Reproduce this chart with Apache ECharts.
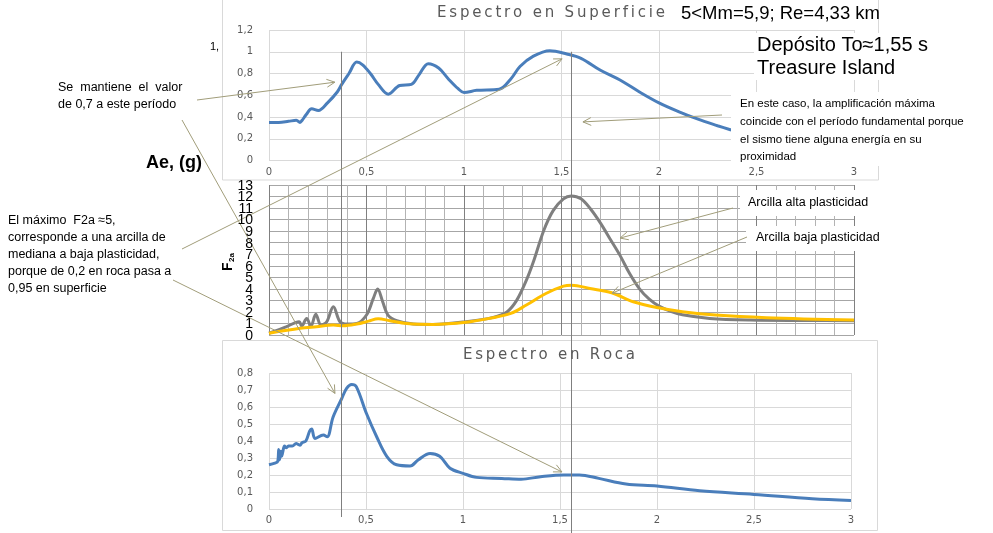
<!DOCTYPE html>
<html><head><meta charset="utf-8">
<script src="https://cdn.jsdelivr.net/npm/echarts/dist/echarts.min.js"></script>
<style>html,body{margin:0;padding:0;background:#fff}#c{width:993px;height:533px}</style>
</head><body><div id="c"></div>
<script>
// ---- Data: Espectro en Superficie (T in s, Ae in g)
const supT = [0,0.05,0.1,0.14,0.159,0.17,0.19,0.219,0.253,0.3,0.35,0.373,0.41,0.45,0.48,0.52,0.56,0.612,0.67,0.73,0.77,0.817,0.87,0.92,0.97,1.0,1.065,1.18,1.24,1.287,1.356,1.44,1.527,1.6,1.7,1.8,1.9,2.0,2.1,2.2,2.3,2.37];
const supA = [0.35,0.35,0.36,0.37,0.35,0.37,0.42,0.475,0.46,0.53,0.63,0.70,0.8,0.905,0.88,0.8,0.7,0.61,0.69,0.70,0.79,0.89,0.85,0.75,0.66,0.625,0.645,0.655,0.75,0.865,0.96,1.01,0.98,0.94,0.83,0.74,0.63,0.53,0.45,0.38,0.32,0.28];
// ---- Data: F2a, arcilla alta plasticidad
const grayT = [0,0.09,0.154,0.168,0.193,0.215,0.24,0.267,0.296,0.33,0.364,0.4,0.45,0.5,0.535,0.557,0.583,0.61,0.655,0.74,0.84,1.01,1.15,1.22,1.27,1.32,1.355,1.41,1.458,1.51,1.55,1.6,1.65,1.7,1.75,1.8,1.85,1.9,1.95,2.0,2.06,2.12,2.26,2.47,2.75,3.0];
const grayF = [0.15,0.72,1.15,0.78,1.44,0.78,1.79,0.86,1.15,2.45,1.15,0.95,1.0,1.73,3.17,3.98,2.88,1.73,1.24,0.95,0.92,1.15,1.53,2.0,3.0,4.75,6.3,9.1,10.8,11.8,12.05,11.8,10.9,9.7,8.3,6.9,5.3,4.0,3.1,2.5,2.05,1.75,1.44,1.3,1.26,1.24];
// ---- Data: F2a, arcilla baja plasticidad
const yelT = [0,0.16,0.244,0.33,0.38,0.45,0.51,0.56,0.62,0.706,0.84,1.01,1.13,1.24,1.32,1.42,1.51,1.552,1.646,1.757,1.868,1.996,2.12,2.29,2.55,3.0];
const yelF = [0.15,0.58,0.72,0.86,0.8,0.95,1.2,1.41,1.24,1.0,0.92,1.1,1.44,1.87,2.6,3.6,4.24,4.32,4.03,3.66,2.88,2.36,2.02,1.73,1.5,1.3];
// ---- Data: Espectro en Roca
const rocT = [0,0.03,0.045,0.05,0.055,0.06,0.065,0.07,0.08,0.09,0.1,0.12,0.14,0.15,0.16,0.17,0.19,0.21,0.22,0.237,0.28,0.3,0.33,0.375,0.4,0.426,0.45,0.503,0.555,0.607,0.658,0.727,0.77,0.83,0.88,0.933,1.0,1.07,1.2,1.3,1.4,1.52,1.6,1.7,1.84,2.0,2.22,2.5,2.8,3.0];
const rocA = [0.26,0.27,0.28,0.35,0.29,0.34,0.31,0.33,0.37,0.36,0.37,0.37,0.385,0.38,0.375,0.39,0.4,0.46,0.47,0.415,0.435,0.425,0.54,0.65,0.71,0.733,0.72,0.56,0.425,0.31,0.26,0.253,0.29,0.327,0.31,0.24,0.21,0.186,0.18,0.175,0.19,0.2,0.2,0.18,0.147,0.135,0.107,0.086,0.06,0.05];
// ---- F2a tick labels, reference periods
const f2Ticks = [0,1,2,3,4,5,6,7,8,9,10,11,12,13];
const refT = [0.37, 1.55];

const zip = (a,b) => a.map((v,i)=>[v,b[i]]);
const fmt = v => String(Math.round(v*100)/100).replace('.', ',');

const chart = echarts.init(document.getElementById('c'), null, {renderer:'canvas'});
const smallLbl = {margin:7,fontSize:10,fontFamily:'DejaVu Sans',color:'#595959',formatter:fmt,showMinLabel:true,showMaxLabel:true,hideOverlap:false};
const lightSplit = {show:true,lineStyle:{color:'#d9d9d9',width:1}};
const lineS = (xi, data, color) => ({type:'line',xAxisIndex:xi,yAxisIndex:xi,data,smooth:0.35,showSymbol:false,lineStyle:{color,width:3}});
chart.setOption({
  animation:false,
  grid:[
    {left:269,top:30,width:585,height:130.5},
    {left:269,top:185,width:585,height:150},
    {left:269,top:373,width:582,height:136}
  ],
  xAxis:[
    {gridIndex:0,type:'value',min:0,max:3,interval:0.5,axisLine:{show:false},axisTick:{show:false},splitLine:lightSplit,axisLabel:smallLbl},
    {gridIndex:1,type:'value',min:0,max:3,interval:0.1,axisLine:{show:false},axisTick:{show:false},axisLabel:{show:false},
      splitLine:{show:true,lineStyle:{color:['#808080','#b3b3b3','#b3b3b3','#b3b3b3','#b3b3b3'],width:1}}},
    {gridIndex:2,type:'value',min:0,max:3,interval:0.5,axisLine:{show:false},axisTick:{show:false},splitLine:lightSplit,axisLabel:Object.assign({},smallLbl,{margin:6})}
  ],
  yAxis:[
    {gridIndex:0,type:'value',min:0,max:1.2,interval:0.2,axisLine:{show:false},axisTick:{show:false},splitLine:lightSplit,axisLabel:Object.assign({},smallLbl,{margin:16})},
    {gridIndex:1,type:'value',min:0,max:13,interval:1,axisLine:{show:false},axisTick:{show:false},
      splitLine:{show:true,lineStyle:{color:'#a6a6a6',width:1}},axisLabel:{show:false}},
    {gridIndex:2,type:'value',min:0,max:0.8,interval:0.1,axisLine:{show:false},axisTick:{show:false},splitLine:lightSplit,axisLabel:Object.assign({},smallLbl,{margin:16})}
  ],
  series:[
    lineS(0, zip(supT,supA), '#4a7ebb'),
    lineS(1, zip(grayT,grayF), '#7f7f7f'),
    lineS(1, zip(yelT,yelF), '#ffc000'),
    lineS(2, zip(rocT,rocA), '#4a7ebb')
  ]
});

// ---- Annotations
const px = (g, p) => chart.convertToPixel({gridIndex:g}, p);
const G = [];
G.push({type:'rect',z:-10,shape:{x:222.5,y:-1,width:656,height:181},style:{fill:'#fff',stroke:'#d9d9d9',lineWidth:1}});
G.push({type:'rect',z:-10,shape:{x:222.5,y:340.5,width:655,height:190},style:{fill:'#fff',stroke:'#d9d9d9',lineWidth:1}});
const topY = px(0,[0,1])[1];
const ends = [517, 533];
refT.forEach((t,i)=>{
  const x = Math.round(px(0,[t,1])[0])+0.5;
  G.push({type:'line',z:50,shape:{x1:x,y1:topY,x2:x,y2:ends[i]},style:{stroke:'#7f7f7f',lineWidth:1}});
});
const wbox = (x,y,w,h)=>G.push({type:'rect',z:60,shape:{x,y,width:w,height:h},style:{fill:'#fff'}});
wbox(731,92,250,74);
wbox(740,190,142,26);
wbox(746,226,142,25);
wbox(754,33,190,24);
wbox(754,57,190,23);
const AC = '#a19d7a';
function arrow(p0, p1){
  const ang = Math.atan2(p1[1]-p0[1], p1[0]-p0[0]);
  const L = 9, a = 0.45;
  G.push({type:'line',z:70,shape:{x1:p0[0],y1:p0[1],x2:p1[0],y2:p1[1]},style:{stroke:AC,lineWidth:1}});
  G.push({type:'polyline',z:70,shape:{points:[
    [p1[0]-L*Math.cos(ang-a), p1[1]-L*Math.sin(ang-a)], p1,
    [p1[0]-L*Math.cos(ang+a), p1[1]-L*Math.sin(ang+a)]]},style:{stroke:AC,lineWidth:1,fill:null}});
}
arrow([197,100], px(0,[0.338,0.72]));
arrow([182,120], px(2,[0.34,0.68]));
arrow([182,249], px(0,[1.503,0.935]));
arrow([173,280], px(2,[1.51,0.218]));
arrow([722,115], px(0,[1.61,0.355]));
arrow([733,208], px(1,[1.8,8.4]));
arrow([747,237], px(1,[1.76,3.63]));
const txt = (s,x,y,font,fill,align)=>G.push({type:'text',z:80,style:{text:s,x,y,font,fill:fill||'#000',textAlign:align||'left',textVerticalAlign:'middle'}});
// F2a tick labels (all shown, crowded as in the original)
f2Ticks.forEach(v=>{ const p = px(1,[0,v]); txt(String(v), p[0]-16, p[1]+1, '14px "Liberation Sans"', '#000', 'right'); });
const mctx = document.createElement('canvas').getContext('2d');
function spaced(s, x0, x1, y, font, fill){
  mctx.font = font;
  const ws = [...s].map(ch=>mctx.measureText(ch).width);
  const tot = ws.reduce((a,b)=>a+b,0);
  const sp = (x1-x0-tot)/(s.length-1);
  let x = x0;
  [...s].forEach((ch,i)=>{ G.push({type:'text',z:80,style:{text:ch,x,y,font,fill,textVerticalAlign:'middle'}}); x += ws[i]+sp; });
}
spaced('Espectro en Superficie',437,665,13,'15px "DejaVu Sans"','#595959');
spaced('Espectro en Roca',463,635,355,'15px "DejaVu Sans"','#595959');
txt('5<Mm=5,9; Re=4,33 km',681,14,'18.5px "Liberation Sans"');
txt('Depósito To≈1,55 s',757,45,'20px "Liberation Sans"');
txt('Treasure Island',757,68,'20px "Liberation Sans"');
txt('1,',210,47,'11px "Liberation Sans"');
txt('Ae, (g)',146,163,'bold 18px "Liberation Sans"');
['En este caso, la amplificación máxima','coincide con el período fundamental porque','el sismo tiene alguna energía en su','proximidad']
  .forEach((s,i)=>txt(s,740,104+i*17.7,'11.5px "Liberation Sans"'));
txt('Se  mantiene  el  valor',58,88,'12.5px "Liberation Sans"');
txt('de 0,7 a este período',58,105,'12.5px "Liberation Sans"');
['El máximo  F2a ≈5,','corresponde a una arcilla de','mediana a baja plasticidad,','porque de 0,2 en roca pasa a','0,95 en superficie']
  .forEach((s,i)=>txt(s,8,221+i*16.8,'12.5px "Liberation Sans"'));
txt('Arcilla alta plasticidad',748,203,'12.5px "Liberation Sans"');
txt('Arcilla baja plasticidad',756,238,'12.5px "Liberation Sans"');
G.push({type:'group',x:228,y:262,rotation:Math.PI/2,z:80,children:[
  {type:'text',style:{text:'F',x:-9,y:0,font:'bold 14px "Liberation Sans"',fill:'#000',textVerticalAlign:'middle'}},
  {type:'text',style:{text:'2a',x:0,y:4,font:'bold 8px "Liberation Sans"',fill:'#000',textVerticalAlign:'middle'}}
]});
chart.setOption({graphic:{elements:G}});
</script></body></html>
